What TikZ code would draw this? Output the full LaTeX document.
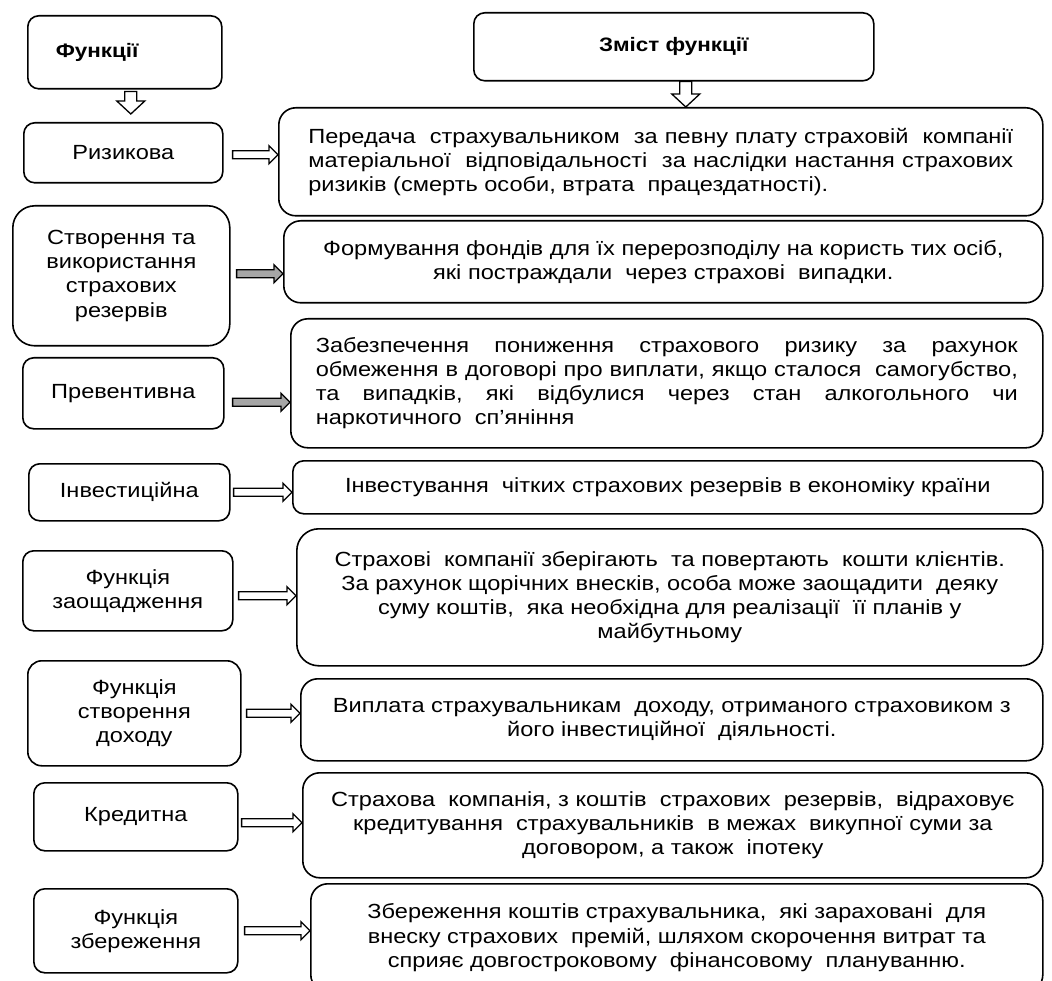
\documentclass[tikz,border=0pt]{standalone}
\usepackage{fontspec}
\setmainfont{Liberation Sans}[FakeStretch=1.15]
\usetikzlibrary{calc}
\newcommand{\fsz}{\fontsize{20.5}{24.2}\selectfont}
\newcommand{\hsz}{\fontsize{19.5}{24}\selectfont}
\tikzset{
  base/.style={draw, line width=1.6pt, anchor=north west, inner sep=0pt, font=\fsz},
  lbox/.style={base, rounded corners=11pt, align=center},
  rbox/.style={base, rounded corners=17pt},
  harrow/.style={line width=1.3pt, line join=miter, to path={let \p1=(\tikztostart), \p2=(\tikztotarget) in
    (\x1,\y1+4pt) -- (\x2-9pt,\y1+4pt) -- (\x2-9pt,\y1+9pt) -- (\x2,\y1) -- (\x2-9pt,\y1-9pt) -- (\x2-9pt,\y1-4pt) -- (\x1,\y1-4pt) -- cycle}},
  varrow/.style={line width=1.3pt, line join=miter, to path={let \p1=(\tikztostart), \p2=(\tikztotarget) in
    (\x1-6pt,\y1) -- (\x1-6pt,\y2+13pt) -- (\x1-14pt,\y2+13pt) -- (\x1,\y2) -- (\x1+14pt,\y2+13pt) -- (\x1+6pt,\y2+13pt) -- (\x1+6pt,\y1) -- cycle}},
}
\begin{document}
\begin{tikzpicture}[x=1pt,y=-1pt]
\useasboundingbox (0,0) rectangle (1052,981);
\clip (0,0) rectangle (1052,981);
% headers
\node[base, rounded corners=11pt, minimum width=194pt, minimum height=73pt, text width=138pt, inner xsep=28pt, align=left, font=\hsz\bfseries] (fh) at (27,15) {Функції};
\node[base, rounded corners=11pt, minimum width=400pt, minimum height=68pt, align=center, font=\hsz\bfseries] (zh) at (473,12) {Зміст функції};
% left boxes
\node[lbox, minimum width=199pt, minimum height=60pt] (l1) at (23,122) {Ризикова};
\node[lbox, rounded corners=22pt, minimum width=217pt, minimum height=140pt] (l2) at (12,205) {Створення та\\використання\\страхових\\резервів};
\node[lbox, minimum width=201pt, minimum height=71pt] (l3) at (22,357) {Превентивна};
\node[lbox, minimum width=201pt, minimum height=57pt] (l4) at (28,463) {Інвестиційна};
\node[lbox, minimum width=210pt, minimum height=80pt] (l5) at (22,550) {Функція\\заощадження};
\node[lbox, rounded corners=14pt, minimum width=213pt, minimum height=105pt] (l6) at (27,660) {Функція\\створення\\доходу};
\node[lbox, minimum width=204pt, minimum height=68pt] (l7) at (33,782) {Кредитна};
\node[lbox, minimum width=204pt, minimum height=84pt] (l8) at (33,888) {Функція\\збереження};
% right boxes
\node[rbox, minimum width=764pt, minimum height=108pt, text width=705pt, align=justify] (r1) at (278,107) {Передача\ \ страхувальником\ \ за певну плату страховій\ \ компанії \linebreak матеріальної\ \ відповідальності\ \ за наслідки настання страхових \linebreak ризиків (смерть особи, втрата\ \ працездатності).};
\node[rbox, minimum width=759pt, minimum height=82pt, align=center] (r2) at (283,220) {Формування фондів для їх перерозподілу на користь тих осіб,\\ які постраждали\ \ через страхові\ \ випадки.};
\node[rbox, minimum width=752pt, minimum height=129pt, text width=702pt, align=justify] (r3) at (290,318) {Забезпечення\ \ пониження\ \ страхового\ \ ризику\ \ за\ \ рахунок \linebreak обмеження в договорі про виплати, якщо сталося\ \ самогубство, \linebreak та\ \ випадків,\ \ які\ \ відбулися\ \ через\ \ стан\ \ алкогольного\ \ чи \linebreak наркотичного\ \ сп’яніння};
\node[rbox, rounded corners=11pt, minimum width=750pt, minimum height=53pt, align=center] (r4) at (292,460) {Інвестування\ \ чітких страхових резервів в економіку країни};
\node[rbox, rounded corners=22pt, minimum width=746pt, minimum height=137pt, align=center] (r5) at (296,528) {Страхові\ \ компанії зберігають\ \ та повертають\ \ кошти клієнтів.\\ За рахунок щорічних внесків, особа може заощадити\ \ деяку\\ суму коштів,\ \ яка необхідна для реалізації\ \ її планів у\\ майбутньому};
\node[rbox, minimum width=742pt, minimum height=82pt, align=center] (r6) at (300,678) {Виплата страхувальникам\ \ доходу, отриманого страховиком з\\ його інвестиційної\ \ діяльності.};
\node[rbox, minimum width=740pt, minimum height=105pt, align=center] (r7) at (302,772) {Страхова\ \ компанія, з коштів\ \ страхових\ \ резервів,\ \ відраховує\\ кредитування\ \ страхувальників\ \ в межах\ \ викупної суми за\\ договором, а також\ \ іпотеку};
\node[rbox, minimum width=732pt, minimum height=108pt, align=center] (r8) at (310,883) {Збереження коштів страхувальника,\ \ які зараховані\ \ для\\ внеску страхових\ \ премій, шляхом скорочення витрат та\\ сприяє довгостроковому\ \ фінансовому\ \ плануванню.};
% vertical arrows
\draw[varrow, fill=white] ([xshift=6pt,yshift=-2pt]fh.south) to ([yshift=8pt]l1.north);
\draw[varrow, fill=white] ([xshift=12pt]zh.south) to (r1.north);
% horizontal arrows
\draw[harrow, fill=white] ([xshift=9pt,yshift=-2pt]l1.east) to (r1.west);
\draw[harrow, fill=gray!70] ([xshift=6pt,yshift=2pt]l2.east) to (r2.west);
\draw[harrow, fill=gray!70] ([xshift=8pt,yshift=-9pt]l3.east) to (r3.west);
\draw[harrow, fill=white] ([xshift=3pt]l4.east) to (r4.west);
\draw[harrow, fill=white] ([xshift=5pt,yshift=-5pt]l5.east) to (r5.west);
\draw[harrow, fill=white] ([xshift=5pt]l6.east) to (r6.west);
\draw[harrow, fill=white] ([xshift=3pt,yshift=-6pt]l7.east) to (r7.west);
\draw[harrow, fill=white] ([xshift=6pt]l8.east) to (r8.west);
\end{tikzpicture}
\end{document}
